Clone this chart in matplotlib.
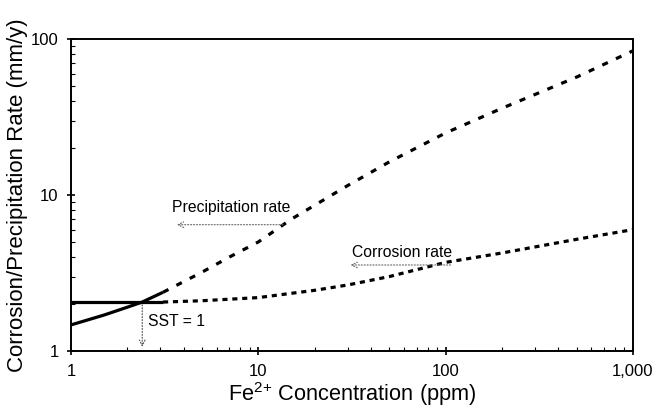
import matplotlib
matplotlib.use('Agg')
from matplotlib import pyplot as plt
from matplotlib.ticker import FixedLocator, FixedFormatter, NullFormatter

plt.rcParams['font.family'] = ['Liberation Sans', 'DejaVu Sans']

# precipitation rate (mm/y) vs Fe2+ (ppm)
prec_solid_x = [1, 1.5, 2, 2.4, 3.1]
prec_solid_y = [1.47, 1.70, 1.91, 2.06, 2.38]
prec_dash_x = [3.1, 5, 7, 10, 15, 20, 30, 50, 100, 200, 500, 1000]
prec_dash_y = [2.38, 3.2, 4.0, 5.0, 7.0, 8.6, 11.5, 16.3, 25, 36, 57, 84]

# corrosion rate (mm/y)
corr_solid_x = [1, 3.1]
corr_solid_y = [2.06, 2.06]
corr_dash_x = [3.1, 5, 10, 20, 30, 50, 100, 200, 500, 1000]
corr_dash_y = [2.06, 2.1, 2.2, 2.45, 2.65, 3.0, 3.7, 4.25, 5.2, 6.0]

sst_x = 2.4
sst_y = 2.06

fig = plt.figure(figsize=(6.55, 4.05), dpi=100)
ax = fig.add_axes([0.1084, 0.1333, 0.858, 0.7704])

ax.plot(prec_solid_x, prec_solid_y, color='black', lw=2.3, solid_capstyle='butt')
ax.plot(prec_dash_x, prec_dash_y, color='black', lw=2.3, dashes=(1.9, 2.8))
ax.plot(corr_solid_x, corr_solid_y, color='black', lw=2.3, solid_capstyle='butt')
ax.plot(corr_dash_x, corr_dash_y, color='black', lw=2.3, dashes=(1.6, 1.5))

ax.set_xscale('log')
ax.set_yscale('log')
ax.set_xlim(1, 1000)
ax.set_ylim(1, 100)

ax.xaxis.set_major_locator(FixedLocator([1, 10, 100, 1000]))
ax.xaxis.set_major_formatter(FixedFormatter(['1', '10', '100', '1,000']))
ax.yaxis.set_major_locator(FixedLocator([1, 10, 100]))
ax.yaxis.set_major_formatter(FixedFormatter(['1', '10', '100']))
ax.xaxis.set_minor_formatter(NullFormatter())
ax.yaxis.set_minor_formatter(NullFormatter())
ax.tick_params(which='major', direction='inout', length=6, width=1.2, labelsize=12, pad=6)
ax.tick_params(which='minor', direction='in', length=3, width=0.8)
for s in ax.spines.values():
    s.set_linewidth(1.4)

# annotations
ax.text(3.47, 8.3, 'Precipitation rate', fontsize=11.3, ha='left', va='center')
ax.annotate('', xy=(3.55, 6.45), xytext=(14, 6.45),
            arrowprops=dict(arrowstyle='->', color='0.4', lw=0.8, linestyle=':'))
ax.text(31.5, 4.25, 'Corrosion rate', fontsize=11.3, ha='left', va='center')
ax.annotate('', xy=(30, 3.56), xytext=(110, 3.56),
            arrowprops=dict(arrowstyle='->', color='0.4', lw=0.8, linestyle=':'))
ax.text(2.58, 1.55, 'SST = 1', fontsize=11.3, ha='left', va='center')
ax.annotate('', xy=(sst_x, 1.02), xytext=(sst_x, sst_y),
            arrowprops=dict(arrowstyle='->', color='0.3', lw=0.8, linestyle=':'))

ax.set_xlabel(r'Fe$^{\mathregular{2{+}}}$ Concentration (ppm)', fontsize=15.7, labelpad=1)
ax.set_ylabel('Corrosion/Precipitation Rate (mm/y)', fontsize=16, labelpad=2)

fig.savefig('out.png', dpi=100)
